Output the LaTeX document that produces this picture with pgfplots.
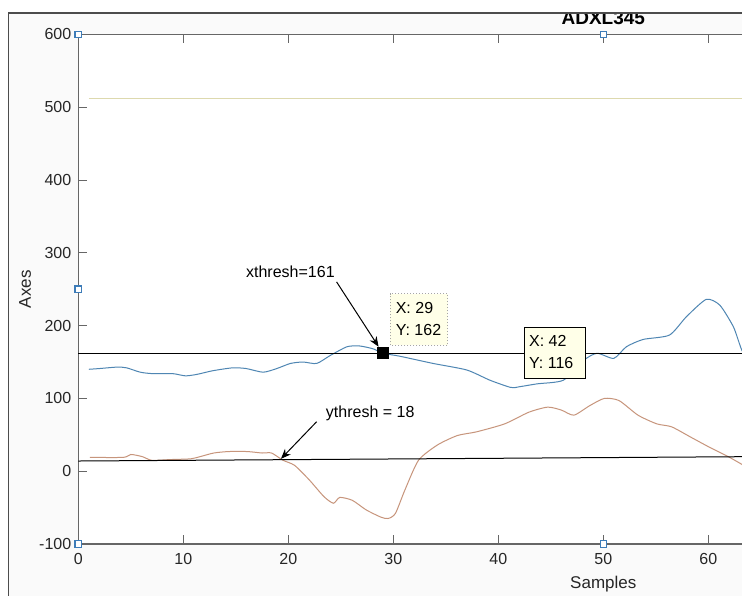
\documentclass[border=0pt]{standalone}
\usepackage{pgfplots}
\pgfplotsset{compat=1.18}
\usepackage{fontspec}
\setmainfont{Liberation Sans}
\usetikzlibrary{arrows.meta}
\definecolor{mblue}{HTML}{4F86B3}
\definecolor{morange}{HTML}{C7957C}
\definecolor{myellow}{HTML}{DDD9AE}
\definecolor{handle}{HTML}{3D7CB8}
\definecolor{tipbg}{HTML}{FFFFE8}
\begin{document}
\begin{tikzpicture}[x=1pt,y=1pt]
\useasboundingbox (-39.15,-25.5) rectangle (331.85,272);
\fill[white] (-39.15,-25.5) rectangle (331.85,272);
\fill[black!2] (-34.9,-40) rectangle (400,265.6);
\node[font=\bfseries\fontsize{9.5}{11}\selectfont, anchor=base] at (262.5,259.5) {ADXL345};
\fill[white] (-34.9,265.6) rectangle (400,280);
\draw[black!70, line width=0.9pt] (-34.9,-40) rectangle (400,265.6);
\begin{axis}[
  at={(0,0)}, anchor=south west, scale only axis,
  width=525pt, height=254.8pt,
  xmin=0, xmax=100, ymin=-100, ymax=600,
  xtick={0,10,...,60}, ytick={-100,0,...,600},
  tick align=inside, major tick length=4.5pt,
  axis background/.style={fill=white},
  axis line style={black!60, line width=0.6pt},
  tick style={black!60, line width=0.5pt},
  ticklabel style={font=\fontsize{8}{9.5}\selectfont, text=black!85},
  xticklabel style={yshift=-1.2pt},
  /pgf/number format/assume math mode=true,
  xlabel={Samples}, ylabel={Axes},
  label style={font=\fontsize{8.5}{10}\selectfont, text=black!85},
  xlabel style={at={(axis description cs:0.5,0)}, yshift=-20pt, anchor=center},
  ylabel style={at={(axis description cs:0,0.5)}, yshift=26.6pt, anchor=center},
  clip=false,
]
\addplot[myellow, line width=0.6pt] coordinates {(1,512) (64,512)};
\addplot[mblue, line width=0.5pt, smooth, tension=0.4] coordinates {
(1,140) (2,141) (3.7,143) (4.6,142) (5.9,136) (7.1,134) (9,134) (10.2,131) (11.3,133) (12.8,138)
(14.7,142) (16,141) (17.6,136) (18.9,141) (20.2,148) (21.4,150) (22.7,148) (24,159) (25.6,171)
(26.8,172) (28.1,168) (29,162) (30.6,158) (33.8,148) (37,139) (39.2,125) (41.2,115) (42,116)
(43.7,120) (46.2,125) (48.1,152) (49.4,162) (51,155) (52.2,171) (53.8,181) (56.3,187) (57.9,212)
(59.8,236) (61.1,228) (62.4,198) (63.2,166) (64,150)};
\addplot[morange, line width=0.5pt, smooth, tension=0.4] coordinates {
(1.1,19) (4.3,19) (5,23) (6.1,20) (7,15) (8.8,16) (10.7,17) (11.6,20) (12.9,25) (14.3,27)
(16.1,27) (17.5,25) (18.4,25) (19.5,15) (20.6,8) (22,-12) (23.4,-35) (24.3,-44) (24.9,-36)
(26.1,-40) (27.4,-53) (28.8,-63) (29.5,-65) (30.2,-58) (31.1,-26) (32.4,15) (34.2,36) (36.1,49)
(37.9,54) (40.6,65) (42.9,81) (44.7,88) (46,84) (47.2,77) (48.7,90) (50.1,100) (51.5,97)
(53.3,77) (55.1,65) (56.5,61) (58.3,47) (60.1,33) (61.9,20) (63.6,6) (64,2)};
\addplot[black, line width=0.5pt] coordinates {(0,161) (64,161)};
\addplot[black, line width=0.5pt] coordinates {(0,14) (64,20)};
\addplot[only marks, mark=square*, mark size=2.7pt, black] coordinates {(29,162)};
\addplot[only marks, mark=square*, mark size=1.6pt, mark options={fill=white, draw=handle, line width=0.6pt}]
  coordinates {(0,600) (50,600) (0,250) (0,-100) (50,-100)};
\draw[-{Stealth[length=5pt,width=4pt]}, line width=0.5pt] (axis cs:24.6,260) -- (axis cs:28.6,171);
\node[font=\fontsize{8}{9.6}\selectfont] at (axis cs:20.2,274) {xthresh=161};
\draw[-{Stealth[length=5pt,width=4pt]}, line width=0.5pt] (axis cs:22.7,68) -- (axis cs:19.3,17);
\node[font=\fontsize{8}{9.6}\selectfont] at (axis cs:27.8,79) {ythresh = 18};
\filldraw[fill=tipbg, draw=black!35, densely dotted, line width=0.5pt] (axis cs:29.7,173) rectangle (axis cs:35.2,244);
\node[anchor=west, inner sep=0pt, font=\fontsize{8}{9.6}\selectfont] at (axis cs:30.2,223.6) {X: 29};
\node[anchor=west, inner sep=0pt, font=\fontsize{8}{9.6}\selectfont] at (axis cs:30.2,194) {Y: 162};
\filldraw[fill=tipbg, draw=black, line width=0.6pt] (axis cs:42.5,127) rectangle (axis cs:48.3,197.5);
\node[anchor=west, inner sep=0pt, font=\fontsize{8}{9.6}\selectfont] at (axis cs:42.9,179) {X: 42};
\node[anchor=west, inner sep=0pt, font=\fontsize{8}{9.6}\selectfont] at (axis cs:42.9,148) {Y: 116};
\end{axis}
\end{tikzpicture}
\end{document}
